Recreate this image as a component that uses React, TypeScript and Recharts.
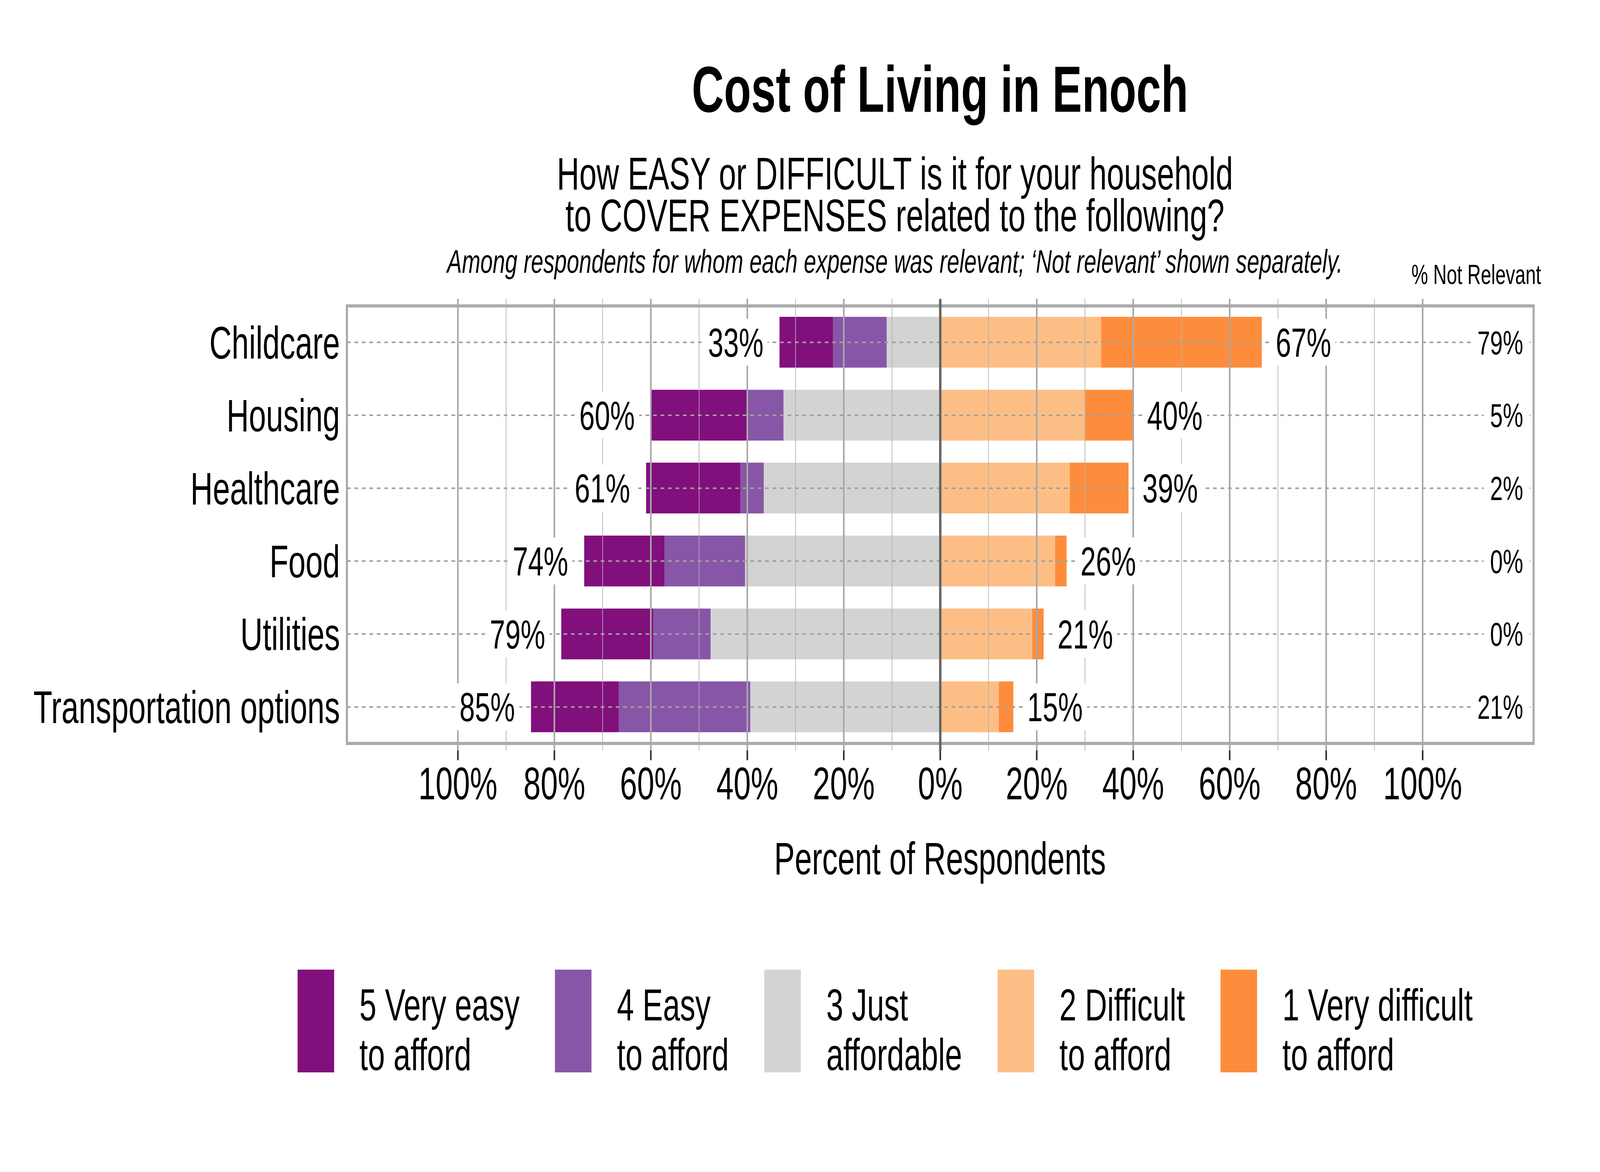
import React from "react";
import {
  Bar,
  BarChart,
  LabelList,
  ReferenceArea,
  ReferenceLine,
  XAxis,
  YAxis,
} from "recharts";

const FONT = "'Liberation Sans', Arial, Helvetica, sans-serif";

// expenses, top to bottom
const items = [
  "Childcare",
  "Housing",
  "Healthcare",
  "Food",
  "Utilities",
  "Transportation options",
];

// percent of respondents for whom the expense was relevant
const veryEasy = [11.11, 20.0, 19.51, 16.67, 19.05, 18.18];
const easy = [11.11, 7.5, 4.88, 16.67, 11.9, 27.27];
const justAffordable = [11.11, 32.5, 36.59, 40.48, 47.62, 39.39];
const difficult = [33.33, 30.0, 26.83, 23.81, 19.05, 12.12];
const veryDifficult = [33.33, 10.0, 12.2, 2.38, 2.38, 3.03];
const notRelevant = [79, 5, 2, 0, 0, 21];

const xTicks = [-100, -80, -60, -40, -20, 0, 20, 40, 60, 80, 100];
const majorGrid = [-100, -80, -60, -40, -20, 20, 40, 60, 80, 100];
const minorGrid = [-90, -70, -50, -30, -10, 10, 30, 50, 70, 90];

const legendKeys = ["veryEasy", "easy", "justAffordable", "difficult", "veryDifficult"];
const legendLabels = [
  "5 Very easy\nto afford",
  "4 Easy\nto afford",
  "3 Just\naffordable",
  "2 Difficult\nto afford",
  "1 Very difficult\nto afford",
];
const colors: Record<string, string> = {
  veryEasy: "#810F7C",
  easy: "#8856A7",
  justAffordable: "#D3D3D3",
  difficult: "#FDBE85",
  veryDifficult: "#FD8D3C",
};

const rows = items.map((item, i) => ({
  item,
  justAffordable: -justAffordable[i],
  easy: -easy[i],
  veryEasy: -veryEasy[i],
  difficult: difficult[i],
  veryDifficult: veryDifficult[i],
  leftTotal: Math.round(veryEasy[i] + easy[i] + justAffordable[i]),
  rightTotal: Math.round(difficult[i] + veryDifficult[i]),
  notRelevant: notRelevant[i],
}));

const W = 6000;
const H = 3000;
const PLOT_LEFT = 1301;
const PLOT_RIGHT = 5751;
const PLOT_TOP = 765;
const PLOT_BOTTOM = 1921;
const Y_AXIS_W = 1200;
const X_AXIS_H = 100;

const TOTAL_FS = 104;
const NR_FS = 86;

// rough Arial-metric width of labels like "67%"
const labelWidth = (s: string, fs: number) =>
  s.split("").reduce((w, c) => w + (c === "%" ? 0.889 : 0.556), 0) * fs;

function CategoryTick(props: any) {
  return (
    <text
      x={PLOT_LEFT - 26}
      y={props.y}
      dy="0.355em"
      textAnchor="end"
      fontSize={116}
      fontFamily={FONT}
      fill="#000"
    >
      {props.payload.value}
    </text>
  );
}

function LeftTotal(props: any) {
  const x = Number(props.x);
  const w = Number(props.width);
  const cy = Number(props.y) + Number(props.height) / 2;
  const end = Math.min(x, x + w);
  const label = `${props.value}%`;
  const tw = labelWidth(label, TOTAL_FS);
  const right = end - 60;
  return (
    <g>
      <rect x={right - tw - 16} y={cy - 60} width={tw + 32} height={120} fill="#fff" />
      <text
        x={right}
        y={cy}
        dy="0.355em"
        textAnchor="end"
        fontSize={TOTAL_FS}
        fontFamily={FONT}
        fill="#000"
      >
        {label}
      </text>
    </g>
  );
}

function RightTotal(props: any) {
  const x = Number(props.x);
  const w = Number(props.width);
  const cy = Number(props.y) + Number(props.height) / 2;
  const end = Math.max(x, x + w);
  const label = `${props.value}%`;
  const tw = labelWidth(label, TOTAL_FS);
  const left = end + 52;
  return (
    <g>
      <rect x={left - 16} y={cy - 60} width={tw + 32} height={120} fill="#fff" />
      <text
        x={left}
        y={cy}
        dy="0.355em"
        textAnchor="start"
        fontSize={TOTAL_FS}
        fontFamily={FONT}
        fill="#000"
      >
        {label}
      </text>
    </g>
  );
}

function NotRelevantLabel(props: any) {
  const cy = Number(props.y) + Number(props.height) / 2;
  const label = `${props.value}%`;
  const tw = labelWidth(label, NR_FS);
  const right = PLOT_RIGHT - 39;
  return (
    <g>
      <rect x={right - tw - 24} y={cy - 50} width={tw + 48} height={100} fill="#fff" />
      <text
        x={right}
        y={cy}
        dy="0.355em"
        textAnchor="end"
        fontSize={NR_FS}
        fontFamily={FONT}
        fill="#000"
      >
        {label}
      </text>
    </g>
  );
}

export default function App() {
  // the window may be narrower than the 6000x3000 figure; fit the figure into it
  const vw = typeof window !== "undefined" ? window.innerWidth : W;
  const vh = typeof window !== "undefined" ? window.innerHeight : H;
  const sx = Math.min(1, vw / W);
  const sy = Math.min(1, vh / H);

  return (
    <div style={{ width: W * sx, height: H * sy, overflow: "hidden", background: "#fff" }}>
      <style>{"body{margin:0;}"}</style>
      <div
        style={{
          position: "relative",
          width: W,
          height: H,
          background: "#fff",
          fontFamily: FONT,
          transform: `scale(${sx}, ${sy})`,
          transformOrigin: "0 0",
        }}
      >
        <BarChart
          width={W}
          height={H}
          data={rows}
          layout="vertical"
          stackOffset="sign"
          barSize={130}
          margin={{
            top: PLOT_TOP,
            right: W - PLOT_RIGHT,
            bottom: H - PLOT_BOTTOM - X_AXIS_H,
            left: PLOT_LEFT - Y_AXIS_W,
          }}
        >
          {items.map((it) => (
            <ReferenceLine
              key={`h${it}`}
              y={it}
              stroke="#a0a0a0"
              strokeWidth={4}
              strokeDasharray="14 14"
            />
          ))}
          {minorGrid.map((v) => (
            <ReferenceLine key={`mi${v}`} x={v} stroke="#b0b0b0" strokeWidth={2.5} />
          ))}
          {majorGrid.map((v) => (
            <ReferenceLine key={`ma${v}`} x={v} stroke="#a9a9a9" strokeWidth={6} />
          ))}
          <ReferenceLine x={0} stroke="#666666" strokeWidth={9} />
          <XAxis
            type="number"
            domain={[-123, 123]}
            allowDataOverflow
            ticks={xTicks}
            interval={0}
            height={X_AXIS_H}
            tickFormatter={(v: number) => `${Math.abs(v)}%`}
            axisLine={false}
            tickLine={{ stroke: "#333333", strokeWidth: 6 }}
            tickSize={25}
            tickMargin={18}
            tick={{ fontSize: 116, fill: "#000", fontFamily: FONT }}
          />
          <YAxis
            type="category"
            dataKey="item"
            width={Y_AXIS_W}
            axisLine={false}
            tickLine={false}
            interval={0}
            padding={{ top: 18, bottom: 18 }}
            tick={CategoryTick}
          />
          <Bar dataKey="justAffordable" stackId="a" fill={colors.justAffordable} isAnimationActive={false}>
            <LabelList dataKey="notRelevant" content={NotRelevantLabel} />
          </Bar>
          <Bar dataKey="easy" stackId="a" fill={colors.easy} isAnimationActive={false} />
          <Bar dataKey="veryEasy" stackId="a" fill={colors.veryEasy} isAnimationActive={false}>
            <LabelList dataKey="leftTotal" content={LeftTotal} />
          </Bar>
          <Bar dataKey="difficult" stackId="a" fill={colors.difficult} isAnimationActive={false} />
          <Bar dataKey="veryDifficult" stackId="a" fill={colors.veryDifficult} isAnimationActive={false}>
            <LabelList dataKey="rightTotal" content={RightTotal} />
          </Bar>
          <ReferenceArea x1={-123} x2={123} fill="none" stroke="#aaaaaa" strokeWidth={8} />
        </BarChart>

        <svg
          width={W}
          height={H}
          style={{ position: "absolute", left: 0, top: 0, pointerEvents: "none" }}
          fontFamily={FONT}
        >
          <text x={3525} y={286} textAnchor="middle" fontSize={166.7} fontWeight="bold" fill="#000">
            Cost of Living in Enoch
          </text>
          <text textAnchor="middle" fontSize={116.7} fill="#000">
            <tspan x={3356} y={485}>
              How EASY or DIFFICULT is it for your household
            </tspan>
            <tspan x={3356} y={592}>
              to COVER EXPENSES related to the following?
            </tspan>
          </text>
          <text x={3356} y={698} textAnchor="middle" fontSize={83.3} fontStyle="italic" fill="#000">
            Among respondents for whom each expense was relevant; ‘Not relevant’ shown separately.
          </text>
          <text x={5779} y={727} textAnchor="end" fontSize={70} fill="#000">
            % Not Relevant
          </text>
          <text x={3525} y={2238} textAnchor="middle" fontSize={116} fill="#000">
            Percent of Respondents
          </text>
        </svg>

        <div
          style={{
            position: "absolute",
            left: 0,
            top: 2482,
            width: 6638,
            display: "flex",
            justifyContent: "center",
            gap: 133,
          }}
        >
          {legendKeys.map((k, i) => (
            <div key={k} style={{ display: "flex", alignItems: "flex-start" }}>
              <div style={{ width: 137, height: 263, background: colors[k] }} />
              <div
                style={{
                  marginLeft: 95,
                  paddingTop: 27,
                  fontSize: 115,
                  lineHeight: "127px",
                  whiteSpace: "pre-line",
                  color: "#000",
                }}
              >
                {legendLabels[i]}
              </div>
            </div>
          ))}
        </div>
      </div>
    </div>
  );
}
